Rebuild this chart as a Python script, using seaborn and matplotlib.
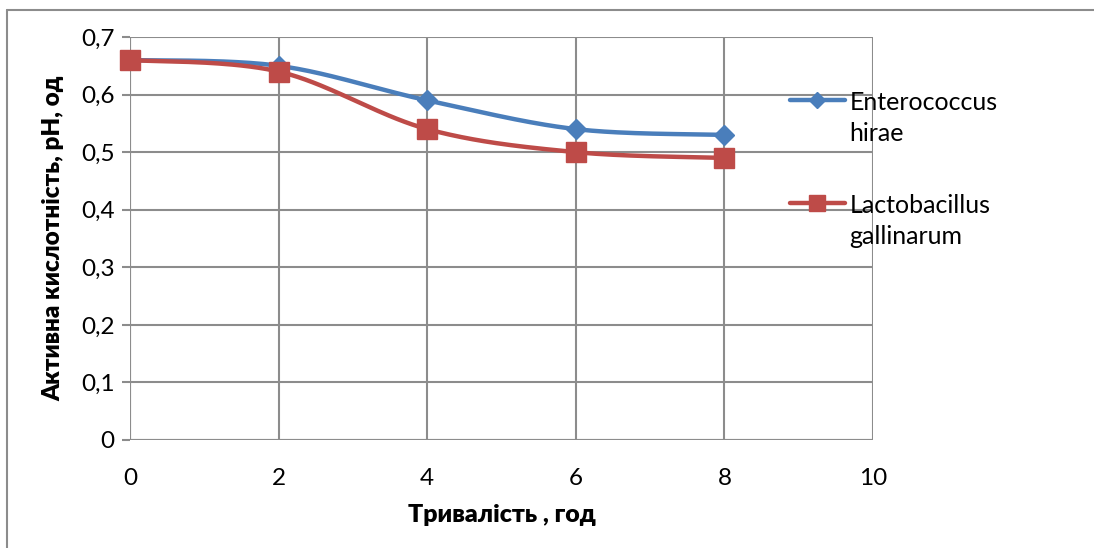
import numpy as np
import pandas as pd
import matplotlib
matplotlib.use("Agg")
import matplotlib.pyplot as plt
from matplotlib.lines import Line2D
from matplotlib.legend_handler import HandlerLine2D
import seaborn as sns

# Measured values
hours = [0, 2, 4, 6, 8]
enterococcus = [0.66, 0.65, 0.59, 0.54, 0.53]
lactobacillus = [0.66, 0.64, 0.54, 0.50, 0.49]
series_names = ["Enterococcus\nhirae", "Lactobacillus\ngallinarum"]
x_ticks = [0, 2, 4, 6, 8, 10]
y_ticks = [0, 0.1, 0.2, 0.3, 0.4, 0.5, 0.6, 0.7]

colors = ["#4A7EBB", "#BE4B48"]
markers = ["D", "s"]
marker_sizes = [10, 14]
FS = 17.5
LEG_FS = 18


def smooth_curve(xs, ys, n=40):
    """Catmull-Rom style Bezier smoothing through every point."""
    xs = np.asarray(xs, float)
    ys = np.asarray(ys, float)
    px = np.concatenate([[xs[0]], xs, [xs[-1]]])
    py = np.concatenate([[ys[0]], ys, [ys[-1]]])
    out_x, out_y = [], []
    for i in range(1, len(px) - 2):
        p0 = np.array([px[i], py[i]])
        p3 = np.array([px[i + 1], py[i + 1]])
        c1 = p0 + (np.array([px[i + 1], py[i + 1]]) - np.array([px[i - 1], py[i - 1]])) / 6
        c2 = p3 - (np.array([px[i + 2], py[i + 2]]) - np.array([px[i], py[i]])) / 6
        t = np.linspace(0, 1, n)[:, None]
        b = ((1 - t) ** 3) * p0 + 3 * ((1 - t) ** 2) * t * c1 + 3 * (1 - t) * t ** 2 * c2 + t ** 3 * p3
        out_x.extend(b[:, 0])
        out_y.extend(b[:, 1])
    return out_x, out_y


class FirstLineHandler(HandlerLine2D):
    """Legend handle aligned with the first line of a two-line label."""

    def create_artists(self, legend, orig_handle, xdescent, ydescent, width,
                       height, fontsize, trans):
        artists = super().create_artists(legend, orig_handle, xdescent, ydescent,
                                         width, height, fontsize, trans)
        for a in artists:
            a.set_ydata(np.asarray(a.get_ydata()) + 0.75 * fontsize)
        return artists


sns.set_theme(style="white")
plt.rcParams["font.family"] = ["Lato", "DejaVu Sans"]
plt.rcParams["text.color"] = "black"
plt.rcParams["axes.labelcolor"] = "black"
plt.rcParams["xtick.color"] = "black"
plt.rcParams["ytick.color"] = "black"

fig = plt.figure(figsize=(10.94, 5.48), dpi=100)
ax = fig.add_axes([130 / 1094, 1 - 440 / 548, (873 - 130) / 1094, (440 - 37) / 548])

curves = []
points = []
for name, vals in zip(series_names, [enterococcus, lactobacillus]):
    sx, sy = smooth_curve(hours, vals)
    curves.append(pd.DataFrame({"x": sx, "y": sy, "series": name}))
    points.append(pd.DataFrame({"x": hours, "y": vals, "series": name}))
curves = pd.concat(curves, ignore_index=True)
points = pd.concat(points, ignore_index=True)

grid_c = "#8C8C8C"
ax.set_xlim(0, 10)
ax.set_ylim(0, 0.7)
ax.set_xticks(x_ticks)
ax.set_yticks(y_ticks)
ax.grid(True, color=grid_c, linewidth=1.5)
ax.set_axisbelow(True)

for i, name in enumerate(series_names):
    sub = curves[curves["series"] == name]
    sns.lineplot(data=sub, x="x", y="y", color=colors[i], linewidth=3.2,
                 sort=False, estimator=None, ax=ax, legend=False, zorder=3)
    pts = points[points["series"] == name]
    ax.plot(pts["x"], pts["y"], linestyle="none", marker=markers[i],
            markersize=marker_sizes[i], color=colors[i], zorder=4, clip_on=False)

for side in ["top", "right", "left", "bottom"]:
    ax.spines[side].set_visible(False)
ax.axhline(0, color=grid_c, linewidth=1.5, zorder=2)
ax.axvline(0, color=grid_c, linewidth=1.5, zorder=2)

ax.set_xticklabels([str(v) for v in x_ticks], fontsize=FS)
ax.set_yticklabels(["0" if v == 0 else f"{v:.1f}".replace(".", ",") for v in y_ticks], fontsize=FS)
ax.tick_params(axis="y", which="both", left=True, length=6, width=1.5, color=grid_c, pad=5)
ax.tick_params(axis="x", which="both", bottom=False, pad=14)

ax.set_xlabel("Тривалість , год", fontsize=18, fontweight="heavy", labelpad=11)
ax.set_ylabel("Активна кислотність, pH, од", fontsize=17.5, fontweight="heavy", labelpad=12)

handles = [Line2D([], [], color=colors[i], linewidth=3.2, marker=markers[i],
                  markersize=marker_sizes[i] * 0.85) for i in range(2)]
leg = fig.legend(handles, series_names, loc="upper left",
                 bbox_to_anchor=(767 / 1094, 1 - 68 / 548),
                 frameon=False, fontsize=LEG_FS, handlelength=2.2, handletextpad=0.2,
                 labelspacing=1.95, handler_map={Line2D: FirstLineHandler()})
for t in leg.get_texts():
    t.set_linespacing(1.45)

# Outer chart frame (left and top edges)
fig.add_artist(Line2D([7 / 1094, 7 / 1094], [0, 1 - 10 / 548], transform=fig.transFigure,
                      color=grid_c, linewidth=1.5))
fig.add_artist(Line2D([7 / 1094, 1], [1 - 10 / 548, 1 - 10 / 548], transform=fig.transFigure,
                      color=grid_c, linewidth=1.5))

fig.savefig("out.png", dpi=100, facecolor="white")
